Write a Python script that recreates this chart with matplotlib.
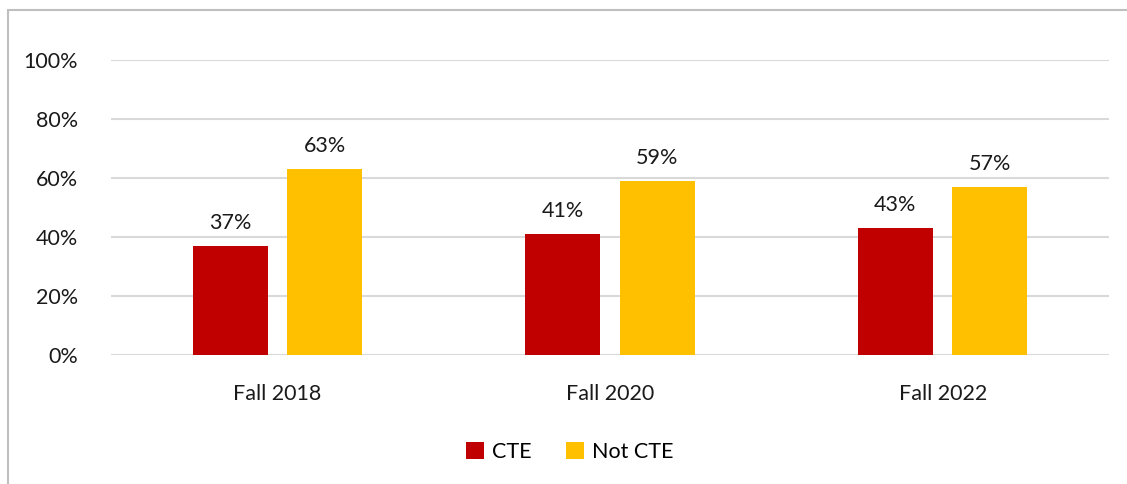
import numpy as np
import matplotlib.pyplot as plt
from matplotlib.patches import Rectangle

plt.rcParams['font.family'] = ['Lato', 'DejaVu Sans']

# data
categories = ['Fall 2018', 'Fall 2020', 'Fall 2022']
cte = [37, 41, 43]
not_cte = [63, 59, 57]
yticks = [0, 20, 40, 60, 80, 100]

RED = '#C00000'
GOLD = '#FFC000'

fig = plt.figure(figsize=(11.27, 4.84), dpi=100)
ax = fig.add_axes([111 / 1127, 1 - 355 / 484, (1109 - 111) / 1127, (355 - 60) / 484])

x = np.arange(len(categories))
w = 0.225
off = 0.142
b1 = ax.bar(x - off, cte, w, color=RED, label='CTE', zorder=3)
b2 = ax.bar(x + off, not_cte, w, color=GOLD, label='Not CTE', zorder=3)

for bars, vals in ((b1, cte), (b2, not_cte)):
    for r, v in zip(bars, vals):
        ax.text(r.get_x() + r.get_width() / 2, v + 4.5, f'{v}%', ha='center',
                va='bottom', fontsize=15.5, color='#1a1a1a')

ax.set_xlim(-0.5, len(categories) - 0.5)
ax.set_ylim(0, 100)
ax.set_yticks(yticks)
ax.set_yticklabels([f'{t}%' for t in yticks])
ax.set_xticks(x)
ax.set_xticklabels(categories)
ax.tick_params(axis='both', length=0, labelsize=15.5, colors='#1a1a1a')
ax.tick_params(axis='y', pad=24)
ax.tick_params(axis='x', pad=21)
ax.grid(axis='y', color='#D9D9D9', linewidth=1.5, zorder=0)
for s in ax.spines.values():
    s.set_visible(False)

leg = fig.legend(handles=[b1, b2], loc='center', bbox_to_anchor=(570 / 1127, 1 - 452 / 484),
                 ncol=2, frameon=False, fontsize=15.5, handlelength=0.8, handleheight=0.8,
                 handletextpad=0.4, columnspacing=1.6)

# outer chart frame (cropped on right and bottom)
fig.patches.append(Rectangle((8 / 1127, -0.1), 1.2, 1 - 10 / 484 + 0.1, transform=fig.transFigure,
                             fill=False, edgecolor='#BFBFBF', linewidth=1.5))

fig.savefig('out.png', dpi=100)
